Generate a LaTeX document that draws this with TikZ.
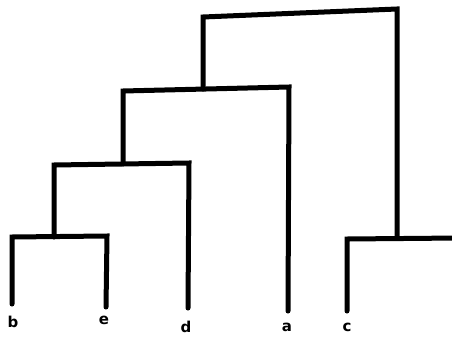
\documentclass[tikz,border=0pt]{standalone}
\usepackage{fontspec}
\setmainfont{DejaVu Sans}
\begin{document}
\begin{tikzpicture}[x=1pt,y=-1pt,
  branch/.style={line width=5pt,line cap=round,line join=miter},
  leaflabel/.style={font=\bfseries\fontsize{15}{15}\selectfont,inner sep=0pt}]
\useasboundingbox (0,0) rectangle (452,343);
\clip (0,0) rectangle (452,343);
% leaf bottoms
\coordinate (bb) at (12,304);
\coordinate (eb) at (106,307);
\coordinate (db) at (188,308);
\coordinate (ab) at (288,311);
\coordinate (cb) at (347,311);
\coordinate (fb) at (459,320);
% bar corners
\coordinate (bt) at (12,237);
\coordinate (et) at (107,236);
\coordinate (dt) at (189,163);
\coordinate (at) at (289,87);
\coordinate (ct) at (347,239);
\coordinate (ft) at (459,238);
\coordinate (cft) at (397,9);
% merge points
\coordinate (be) at (54,237);
\coordinate (bel) at (54,165);
\coordinate (bed) at (123,164);
\coordinate (bedl) at (123,91);
\coordinate (beda) at (203,89);
\coordinate (bedal) at (203,17);
\coordinate (cf) at (397,238);
% labels
\node[leaflabel] (b) at (13,322) {b};
\node[leaflabel] (e) at (104,320) {e};
\node[leaflabel] (d) at (186,327) {d};
\node[leaflabel] (a) at (287,327) {a};
\node[leaflabel] (c) at (347,327) {c};
\node[leaflabel] (f) at (457,335) {f};
% dendrogram
\draw[branch] (bb) -- (bt) -- (et) -- (eb);
\draw[branch] (be) -- (bel) -- (dt) -- (db);
\draw[branch] (bed) -- (bedl) -- (at) -- (ab);
\draw[branch] (beda) -- (bedal) -- (cft) -- (cf);
\draw[branch] (cb) -- (ct) -- (ft) -- (fb);
\end{tikzpicture}
\end{document}
